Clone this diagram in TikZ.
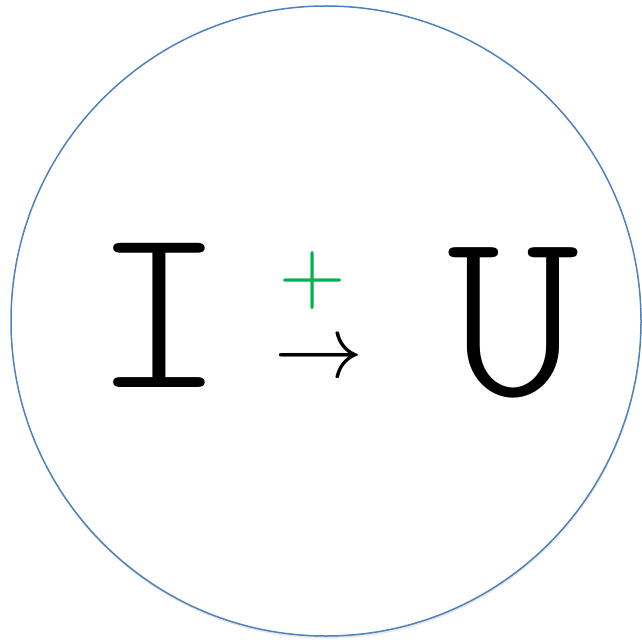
\documentclass[tikz,border=0pt]{standalone}
\usepackage{fontspec}
\newfontfamily\glyphfont{Latin Modern Mono Light}
\usetikzlibrary{shadows}

\definecolor{ringblue}{HTML}{4F81BD}
\definecolor{plusgreen}{HTML}{00B050}

\tikzset{
  letter/.style={anchor=base, inner sep=0pt},
  sign/.style={anchor=base, inner sep=0pt},
}

\begin{document}
\begin{tikzpicture}[x=1pt, y=-1pt]
    \useasboundingbox (0,0) rectangle (641,644);

    % the ring, with its faint shadow
    \node[circle, draw=ringblue, line width=1.5pt, inner sep=0pt, minimum size=630pt,
          fill=white, drop shadow={shadow xshift=0.5pt, shadow yshift=-2.5pt, opacity=0.18}]
        (ring) at (326,321) {};

    \node[letter, font=\glyphfont\fontsize{236}{236}\selectfont, xscale=1.08] (lI) at (159,387) {I};
    \node[letter, font=\glyphfont\fontsize{242}{242}\selectfont, xscale=1.04] (lU) at (514,395) {U};

    \node[sign, text=plusgreen, font=\fontsize{92}{92}\selectfont] (plus) at (313,303) {+};
    \node[sign, scale=8.9] (arrow) at (319,377) {$\rightarrow$};
\end{tikzpicture}
\end{document}
